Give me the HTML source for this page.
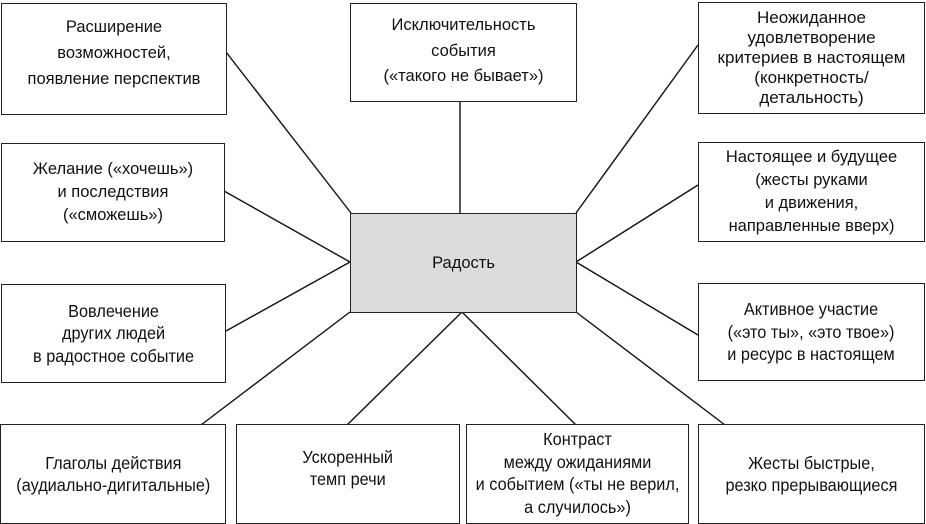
<!DOCTYPE html>
<html><head><meta charset="utf-8"><style>
body{margin:0;width:926px;height:523px;background:#fff;position:relative;overflow:hidden;font-family:"Liberation Sans","DejaVu Sans",sans-serif;color:#111}
.b{position:absolute;border:1.5px solid #222;box-sizing:border-box;background:#fff;display:flex;align-items:center;justify-content:center;text-align:center;font-size:16.5px;line-height:23px}
.c{transform:scaleX(0.93);font-size:17.5px;line-height:22.5px;white-space:nowrap}
svg{position:absolute;left:0;top:0}
</style></head><body>
<svg width="926" height="523">
<g stroke="#111" stroke-width="1.4" fill="none">
<line x1="226" y1="52" x2="351" y2="213"/>
<line x1="224" y1="191" x2="350" y2="262"/>
<line x1="226" y1="331" x2="350" y2="262"/>
<line x1="460" y1="101" x2="460" y2="213"/>
<line x1="698" y1="45" x2="576" y2="213"/>
<line x1="698" y1="185" x2="576" y2="262"/>
<line x1="698" y1="335" x2="576" y2="262"/>
<line x1="350" y1="312" x2="201" y2="425"/>
<line x1="462" y1="312" x2="347" y2="425"/>
<line x1="462" y1="312" x2="576" y2="425"/>
<line x1="576" y1="312" x2="725" y2="425"/>
</g></svg>
<div class="b" style="left:1px;top:3px;width:226px;height:112px;padding-bottom:12px;line-height:26px"><span>Расширение<br>возможностей,<br>появление перспектив</span></div>
<div class="b" style="left:350px;top:3px;width:227px;height:99px;padding-bottom:2px;line-height:25.5px"><span>Исключительность<br>события<br>(«такого не бывает»)</span></div>
<div class="b" style="left:698px;top:2px;width:227px;height:112px;line-height:20px;font-size:17px"><span>Неожиданное<br>удовлетворение<br>критериев в настоящем<br>(конкретность/<br>детальность)</span></div>
<div class="b" style="left:1px;top:143px;width:224px;height:99px"><span>Желание («хочешь»)<br>и последствия<br>(«сможешь»)</span></div>
<div class="b" style="left:698px;top:142px;width:227px;height:100px"><span>Настоящее и будущее<br>(жесты руками<br>и движения,<br>направленные вверх)</span></div>
<div class="b" style="left:350px;top:213px;width:227px;height:100px;background:#dcdcdc"><span>Радость</span></div>
<div class="b" style="left:1px;top:284px;width:225px;height:99px"><span class="c">Вовлечение<br>других людей<br>в радостное событие</span></div>
<div class="b" style="left:698px;top:283px;width:227px;height:98px"><span class="c">Активное участие<br>(«это ты», «это твое»)<br>и ресурс в настоящем</span></div>
<div class="b" style="left:0px;top:424px;width:226px;height:100px"><span class="c">Глаголы действия<br>(аудиально-дигитальные)</span></div>
<div class="b" style="left:236px;top:424px;width:224px;height:100px;padding-bottom:12px"><span class="c">Ускоренный<br>темп речи</span></div>
<div class="b" style="left:466px;top:424px;width:223px;height:100px;align-items:flex-start;padding-top:3px"><span class="c">Контраст<br>между ожиданиями<br>и событием («ты не верил,<br>а случилось»)</span></div>
<div class="b" style="left:698px;top:424px;width:227px;height:100px"><span class="c">Жесты быстрые,<br>резко прерывающиеся</span></div>
</body></html>
